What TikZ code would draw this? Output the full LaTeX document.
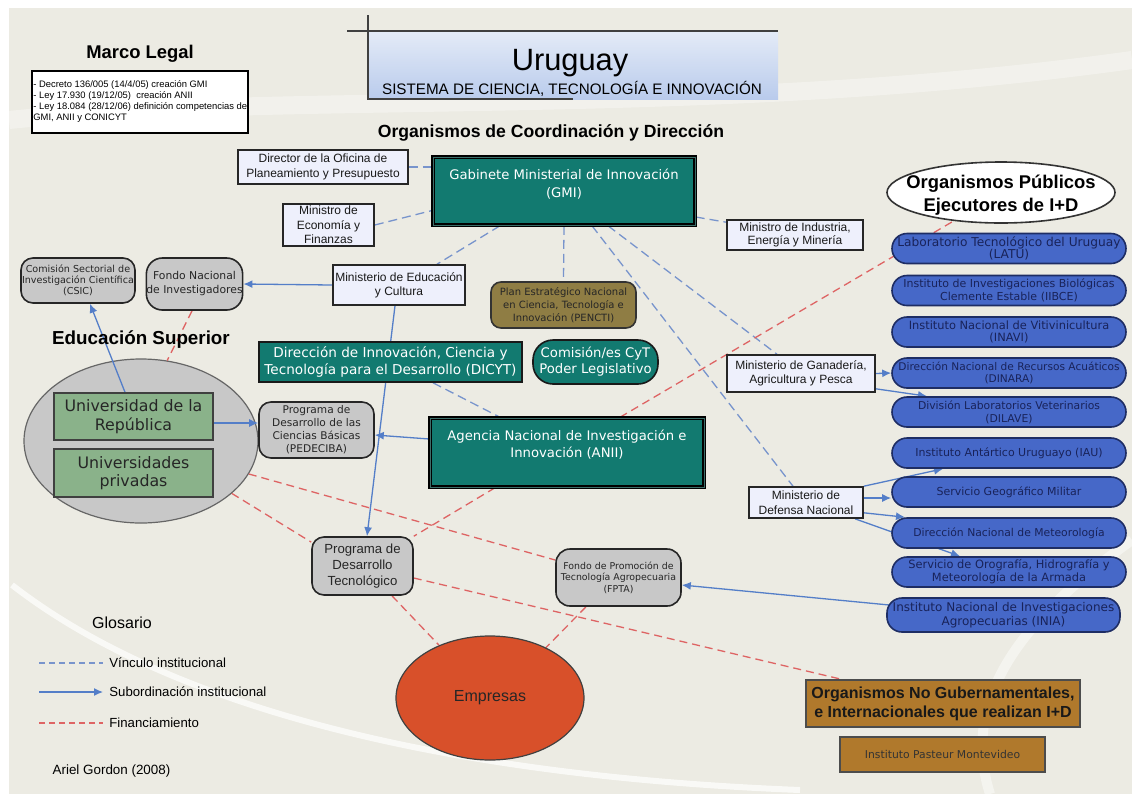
\documentclass[tikz,border=0pt]{standalone}
\usepackage{fontspec}
\setmainfont{Liberation Sans}
\newfontfamily\vf{DejaVu Sans}
\usetikzlibrary{arrows.meta,calc,shapes.geometric}
\newcommand\fsz[2]{\fontsize{#1}{#2}\selectfont}
\definecolor{bgc}{RGB}{236,235,227}
\definecolor{tealc}{RGB}{18,122,112}
\definecolor{dbc}{RGB}{60,110,105}
\definecolor{lav}{RGB}{238,240,252}
\definecolor{grayc}{RGB}{200,200,200}
\definecolor{khaki}{RGB}{143,125,68}
\definecolor{greenc}{RGB}{138,178,138}
\definecolor{bluec}{RGB}{70,104,200}
\definecolor{ovalb}{RGB}{30,45,100}
\definecolor{navy}{RGB}{25,35,90}
\definecolor{orangec}{RGB}{216,80,42}
\definecolor{brownc}{RGB}{176,121,44}
\definecolor{linkb}{RGB}{120,148,204}
\definecolor{subb}{RGB}{84,126,200}
\definecolor{finr}{RGB}{222,100,100}
\definecolor{titt}{RGB}{228,235,247}
\definecolor{titb}{RGB}{185,203,236}
\pgfdeclarelayer{bgl}
\pgfdeclarelayer{edges}
\pgfsetlayers{bgl,edges,main}
\tikzset{
  lavbox/.style={draw=black!85, line width=0.8pt, fill=lav, align=center, inner sep=0pt, text=black!90},
  tealbox/.style={draw=black!90, line width=0.8pt, fill=tealc, text=white, align=center, inner sep=0pt},
  dbl/.style={draw=black, line width=0.75pt, double=dbc, double distance=0.5pt},
  tealtext/.style={text=white, align=center, inner sep=0pt, font=\vf\fsz{6.6}{8.6}},
  graybox/.style={draw=black!85, line width=0.8pt, fill=grayc, align=center, inner sep=0pt, text=black!85},
  oval/.style={draw=ovalb, line width=0.8pt, fill=bluec, rounded corners=7.5pt, minimum width=117pt, minimum height=15pt, align=center, inner sep=0pt, text=navy},
  greenbox/.style={draw=black!75, line width=0.8pt, fill=greenc, align=center, inner sep=0pt, text=black!85, minimum width=79.5pt, font=\vf\fsz{7.9}{9.2}},
  brownbox/.style={draw=black!70, line width=0.8pt, fill=brownc, align=center, inner sep=0pt},
  txt/.style={inner sep=0pt, align=center},
  vinc/.style={draw=linkb, line width=0.65pt, dash pattern=on 4.5pt off 2.5pt},
  sub/.style={draw=subb, line width=0.65pt, -{Latex[length=4.5pt,width=4pt]}},
  fin/.style={draw=finr, line width=0.65pt, dash pattern=on 4pt off 2.5pt},
}
\begin{document}
\begin{tikzpicture}[x=0.5pt,y=-0.5pt]
\useasboundingbox (0,0) rectangle (1132,800);
\begin{pgfonlayer}{bgl}
\fill[white] (0,0) rectangle (1132,800);
\fill[bgc] (9,8) rectangle (1132,794);
\draw[white, line width=3pt, opacity=0.7] (12,585) .. controls (160,700) and (420,775) .. (800,790);
\draw[white, line width=5pt, opacity=0.45] (1132,540) .. controls (1020,620) and (960,700) .. (990,794);
\draw[white, line width=9pt, opacity=0.35] (9,120) .. controls (300,90) and (700,120) .. (1132,60);
\shade[top color=titt, bottom color=titb] (367,31) rectangle (778,99);
\node[ellipse, draw=black!60, line width=0.6pt, fill=grayc, minimum width=117pt, minimum height=82pt, inner sep=0pt] (edu) at (141,441) {};
\end{pgfonlayer}
% title
\draw[black!75, line width=0.6pt] (347,31) -- (778,31);
\draw[black!75, line width=0.6pt] (368,15) -- (368,99) -- (573,99);
\node[txt, anchor=base, font=\fsz{15.4}{18}] (uru) at (570,70) {Uruguay};
\node[txt, anchor=base, font=\fsz{7.6}{9}] (sist) at (572,94) {SISTEMA DE CIENCIA, TECNOLOGÍA E INNOVACIÓN};
% marco legal
\node[txt, font=\bfseries\fsz{9.2}{11}] (mlt) at (140,54) {Marco Legal};
\node[draw=black, line width=1pt, fill=white, minimum width=108pt, minimum height=31pt, inner sep=0pt] (mlbox) at (140,102) {};
\node[txt, anchor=north west, align=left, font=\fsz{4.7}{5.6}] (mltxt) at (33,80) {- Decreto 136/005 (14/4/05) creación GMI\\- Ley 17.930 (19/12/05)\ \ creación ANII\\- Ley 18.084 (28/12/06) definición competencias de\\GMI, ANII y CONICYT};
\node[txt, font=\bfseries\fsz{8.8}{10}] (orgt) at (551,133) {Organismos de Coordinación y Dirección};
% coordination
\node[lavbox, minimum width=85pt, minimum height=17pt, font=\fsz{6}{7.5}] (director) at (323,167) {Director de la Oficina de\\Planeamiento y Presupuesto};
\node[tealbox, dbl, minimum width=131pt, minimum height=34pt] (gmi) at (564,191) {};
\node[tealtext] (gmit) at (564,184) {Gabinete Ministerial de Innovación\\(GMI)};
\node[lavbox, minimum width=45.5pt, minimum height=21pt, font=\fsz{6}{7.2}] (econ) at (328.5,225) {Ministro de\\Economía y\\Finanzas};
\node[lavbox, minimum width=66pt, minimum height=20pt, font=\fsz{6}{7}] (mec) at (399,285) {Ministerio de Educación\\y Cultura};
\node[draw=black!80, line width=0.8pt, fill=khaki, rounded corners=5pt, minimum width=72.5pt, minimum height=23pt, align=center, inner sep=0pt, text=black!85, font=\vf\fsz{5}{6.4}] (pencti) at (563.5,305) {Plan Estratégico Nacional\\en Ciencia, Tecnología e\\Innovación (PENCTI)};
\node[tealbox, minimum width=131.5pt, minimum height=20pt, font=\vf\fsz{6.8}{8.5}] (dicyt) at (390.5,362) {Dirección de Innovación, Ciencia y\\Tecnología para el Desarrollo (DICYT)};
\node[tealbox, rounded corners=10pt, minimum width=62.5pt, minimum height=22pt, font=\vf\fsz{6.6}{8}] (comision) at (595.5,362) {Comisión/es CyT\\Poder Legislativo};
\node[tealbox, dbl, minimum width=137pt, minimum height=34.5pt] (anii) at (567,452.5) {};
\node[tealtext, font=\vf\fsz{6.6}{8.5}] (aniit) at (567,444.5) {Agencia Nacional de Investigación e\\Innovación (ANII)};
% left
\node[graybox, rounded corners=6pt, minimum width=57.5pt, minimum height=28pt, font=\vf\fsz{5.3}{6.5}] (pedeciba) at (316.5,430) {Programa de\\Desarrollo de las\\Ciencias Básicas\\(PEDECIBA)};
\node[graybox, rounded corners=6pt, minimum width=57pt, minimum height=22.5pt, font=\vf\fsz{4.8}{5.6}] (csic) at (78,280.5) {Comisión Sectorial de\\Investigación Científica\\(CSIC)};
\node[graybox, rounded corners=8pt, minimum width=47.5pt, minimum height=26pt, font=\vf\fsz{5.4}{7}] (fni) at (194.5,284) {Fondo Nacional\\de Investigadores};
\node[txt, font=\bfseries\fsz{9.4}{11}] (edut) at (141,340) {Educación Superior};
\node[greenbox, minimum height=23.5pt] (udelar) at (133.5,416.5) {Universidad de la\\República};
\node[greenbox, minimum height=24pt] (upriv) at (133.5,473) {Universidades\\privadas};
\node[graybox, rounded corners=6pt, minimum width=50.5pt, minimum height=29pt, font=\fsz{6.6}{8}] (pdt) at (362.5,566) {Programa de\\Desarrollo\\Tecnológico};
\node[graybox, rounded corners=7pt, minimum width=62.5pt, minimum height=28.5pt, font=\vf\fsz{4.7}{5.8}] (fpta) at (618.5,577.5) {Fondo de Promoción de\\Tecnología Agropecuaria\\(FPTA)};
\node[ellipse, draw=black!75, line width=0.6pt, fill=orangec, minimum width=94pt, minimum height=62pt, inner sep=0pt, font=\fsz{8}{9.6}, text=black!85] (emp) at (490,698) {Empresas};
% right
\node[ellipse, draw=black!80, line width=0.8pt, fill=white, minimum width=114pt, minimum height=30.5pt, inner sep=0pt] (opub) at (1001,192.5) {};
\node[txt, font=\bfseries\fsz{9.2}{11.5}] (opubt) at (1001,195) {Organismos Públicos\\Ejecutores de I+D};
\node[lavbox, minimum width=68pt, minimum height=15pt, font=\fsz{6}{6.4}] (mind) at (795,235) {Ministro de Industria,\\Energía y Minería};
\node[lavbox, minimum width=74pt, minimum height=18.5pt, font=\fsz{6}{7}] (mgap) at (801,373.5) {Ministerio de Ganadería,\\Agricultura y Pesca};
\node[lavbox, minimum width=57pt, minimum height=15.5pt, font=\fsz{6}{7.3}] (mdn) at (806,502.5) {Ministerio de\\Defensa Nacional};
\node[oval, font=\vf\fsz{6.1}{6.4}] (latu) at (1009,248.5) {Laboratorio Tecnológico del Uruguay\\(LATU)};
\node[oval, font=\vf\fsz{5.5}{6.4}] (iibce) at (1009,290.5) {Instituto de Investigaciones Biológicas\\Clemente Estable (IIBCE)};
\node[oval, font=\vf\fsz{5.7}{6.4}] (inavi) at (1009,332) {Instituto Nacional de Vitivinicultura\\(INAVI)};
\node[oval, font=\vf\fsz{5.3}{6.4}] (dinara) at (1009,373) {Dirección Nacional de Recursos Acuáticos\\(DINARA)};
\node[oval, font=\vf\fsz{5.4}{6.4}] (dilave) at (1009,412) {División Laboratorios Veterinarios\\(DILAVE)};
\node[oval, font=\vf\fsz{5.5}{6.4}] (iau) at (1009,453) {Instituto Antártico Uruguayo (IAU)};
\node[oval, font=\vf\fsz{5.5}{6.4}] (sgm) at (1009,492) {Servicio Geográfico Militar};
\node[oval, font=\vf\fsz{5.4}{6.4}] (dnm) at (1009,533) {Dirección Nacional de Meteorología};
\node[oval, font=\vf\fsz{5.7}{6.4}] (sohma) at (1009,572) {Servicio de Orografía, Hidrografía y\\Meteorología de la Armada};
\node[oval, minimum width=116.5pt, minimum height=17pt, font=\vf\fsz{6}{7.2}] (inia) at (1003.5,615) {Instituto Nacional de Investigaciones\\Agropecuarias (INIA)};
\node[brownbox, minimum width=137pt, minimum height=23.5pt, font=\bfseries\fsz{8}{9.5}, text=black!90] (ong) at (943,703.5) {Organismos No Gubernamentales,\\e Internacionales que realizan I+D};
\node[brownbox, minimum width=102.5pt, minimum height=17.5pt, font=\vf\fsz{5.4}{6.5}, text=black!80] (pasteur) at (942.5,754.5) {Instituto Pasteur Montevideo};
% legend
\node[txt, font=\fsz{8}{9.6}] (glos) at (122,623) {Glosario};
\coordinate (l1a) at (39,663); \coordinate (l1b) at (103,663);
\coordinate (l2a) at (39,692); \coordinate (l2b) at (103,692);
\coordinate (l3a) at (39,723); \coordinate (l3b) at (103,723);
\node[txt, anchor=west, font=\fsz{6.6}{8}] (lg1) at (109,663) {Vínculo institucional};
\node[txt, anchor=west, font=\fsz{6.6}{8}] (lg2) at (109,692) {Subordinación institucional};
\node[txt, anchor=west, font=\fsz{6.6}{8}] (lg3) at (109,723) {Financiamiento};
\node[txt, font=\fsz{6.7}{8}] (autor) at (111.5,771) {Ariel Gordon (2008)};
% connectors
\begin{pgfonlayer}{edges}
\draw[vinc, dash pattern=on 3pt off 2pt] (l1a) -- (l1b);
\draw[sub] (l2a) -- (l2b);
\draw[fin, dash pattern=on 3pt off 2pt] (l3a) -- (l3b);
\draw[vinc] (director.east) -- (gmi.west |- director.east);
\draw[vinc] (econ.east) -- ($(gmi.south west)!0.22!(gmi.north west)$);
\draw[vinc] ($(gmi.south)+(-64,0)$) -- ($(mec.north)+(38,0)$);
\draw[vinc] (gmi.south) -- (pencti.north);
\draw[vinc] ($(gmi.east)+(0,26)$) -- ($(mind.north west)+(0,3)$);
\draw[vinc] ($(gmi.south)+(44,0)$) -- ($(mgap.north)+(-24,0)$);
\draw[vinc] ($(gmi.south)+(28,0)$) -- ($(mdn.north)+(-13,0)$);
\draw[vinc] ($(dicyt.south)+(42.5,0)$) -- ($(anii.north)+(-67,0)$);
\draw[sub] (mec.west) -- (fni.east);
\draw[sub] ($(mec.south)+(-4,0)$) -- ($(pdt.north)+(4.5,0)$);
\draw[sub] ($(anii.west)+(0,-13.5)$) -- ($(pedeciba.east)+(0,5)$);
\draw[sub] ($(udelar.east)+(0,6.5)$) -- ($(pedeciba.west)+(0,-7)$);
\draw[sub] ($(udelar.north)+(-8.5,0)$) -- ($(csic.south)+(12,0)$);
\draw[sub] (mgap.east) -- (dinara.west);
\draw[sub] ($(mgap.south east)+(0,-4)$) -- ($(dilave.north)+(-82,0)$);
\draw[sub] (mdn.north east) -- ($(iau.south)+(-66,0)$);
\draw[sub] ($(mdn.east)+(0,-4.5)$) -- ($(sgm.west)+(0,6)$);
\draw[sub] ($(mdn.south east)+(0,-6)$) -- ($(dnm.north)+(-104,0)$);
\draw[sub] ($(mdn.south)+(49,0)$) -- ($(sohma.north)+(-49,0)$);
\draw[sub] ($(inia.west)+(3,-10)$) -- ($(fpta.east)+(0,7.5)$);
\draw[fin] (edu.-17) -- ($(fpta.west)+(0,-17.5)$);
\draw[fin] (edu.-30) -- (pdt.155);
\draw[fin] ($(pdt.east)+(0,12)$) -- ($(ong.north west)+(36,0)$);
\draw[fin] ($(pdt.south)+(29.5,0)$) -- (emp.134);
\draw[fin] ($(fpta.south)+(-32.5,0)$) -- (emp.42);
\draw[fin] ($(anii.south)+(-72,0)$) -- (pdt.north east);
\draw[fin] ($(anii.north)+(53,0)$) -- (opub.211);
\draw[fin] ($(fni.south)+(-2.5,0)$) -- (edu.72);
\end{pgfonlayer}
\end{tikzpicture}
\end{document}
